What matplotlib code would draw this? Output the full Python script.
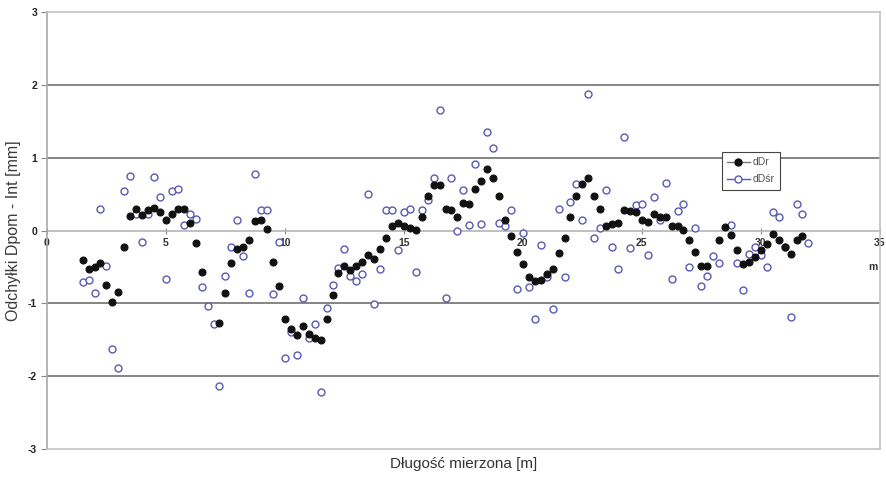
"""
Odchyłki Dpom - Int wzdłuż długości mierzonej (dDr, dDśr)
"""
import numpy as np
import matplotlib
matplotlib.use('Agg')
import matplotlib.pyplot as plt
from matplotlib.lines import Line2D

plt.rcParams['font.family'] = ['Liberation Sans', 'DejaVu Sans']

# distance along the measured length [m]
dist = [1.5, 1.75, 2.0, 2.25, 2.5, 2.75, 3.0, 3.25, 3.5, 3.75,
        4.0, 4.25, 4.5, 4.75, 5.0, 5.25, 5.5, 5.75, 6.0, 6.25,
        6.5, 6.75, 7.0, 7.25, 7.5, 7.75, 8.0, 8.25, 8.5, 8.75,
        9.0, 9.25, 9.5, 9.75, 10.0, 10.25, 10.5, 10.75, 11.0, 11.25,
        11.5, 11.75, 12.0, 12.25, 12.5, 12.75, 13.0, 13.25, 13.5, 13.75,
        14.0, 14.25, 14.5, 14.75, 15.0, 15.25, 15.5, 15.75, 16.0, 16.25,
        16.5, 16.75, 17.0, 17.25, 17.5, 17.75, 18.0, 18.25, 18.5, 18.75,
        19.0, 19.25, 19.5, 19.75, 20.0, 20.25, 20.5, 20.75, 21.0, 21.25,
        21.5, 21.75, 22.0, 22.25, 22.5, 22.75, 23.0, 23.25, 23.5, 23.75,
        24.0, 24.25, 24.5, 24.75, 25.0, 25.25, 25.5, 25.75, 26.0, 26.25,
        26.5, 26.75, 27.0, 27.25, 27.5, 27.75, 28.0, 28.25, 28.5, 28.75,
        29.0, 29.25, 29.5, 29.75, 30.0, 30.25, 30.5, 30.75, 31.0, 31.25,
        31.5, 31.75, 32.0]

# dDr [mm] (None = no point)
d_dr = [-0.40, -0.53, -0.50, -0.45, -0.75, -0.98, -0.84, -0.22, 0.20, 0.30,
        0.21, 0.28, 0.31, 0.25, 0.15, 0.23, 0.30, 0.30, 0.11, -0.17,
        -0.57, None, None, -1.27, -0.86, -0.45, -0.25, -0.22, -0.13, 0.13,
        0.14, 0.02, -0.43, -0.76, -1.21, -1.35, -1.44, -1.31, -1.42, -1.47,
        -1.50, -1.21, -0.88, -0.58, -0.49, -0.54, -0.48, -0.43, -0.33, -0.39,
        -0.25, -0.10, 0.06, 0.10, 0.07, 0.04, 0.01, 0.18, 0.48, 0.63,
        0.63, 0.30, 0.28, 0.19, 0.38, 0.37, 0.57, 0.68, 0.84, 0.72,
        0.48, 0.14, -0.07, -0.29, -0.46, -0.64, -0.69, -0.68, -0.60, -0.53,
        -0.31, -0.10, 0.18, 0.47, 0.64, 0.72, 0.47, 0.30, 0.07, 0.09,
        0.10, 0.28, 0.27, 0.25, 0.15, 0.12, 0.23, 0.19, 0.19, 0.06,
        0.06, 0.01, -0.13, -0.29, -0.48, -0.49, None, -0.13, 0.05, -0.06,
        -0.27, -0.46, -0.43, -0.36, -0.27, -0.18, -0.05, -0.13, -0.22, -0.32,
        -0.13, -0.08, None]

# dDśr [mm]
d_dsr = [-0.71, -0.68, -0.85, 0.29, -0.49, -1.62, -1.88, 0.55, 0.75, 0.23,
         -0.15, 0.23, 0.74, 0.46, -0.66, 0.55, 0.57, 0.08, 0.23, 0.16,
         -0.77, -1.04, -1.28, -2.14, -0.63, -0.22, 0.14, -0.35, -0.86, 0.78,
         0.28, 0.28, -0.87, -0.15, -1.75, -1.39, -1.71, -0.93, -1.48, -1.28,
         -2.22, -1.06, -0.75, -0.52, -0.25, -0.62, -0.69, -0.60, 0.50, -1.01,
         -0.53, 0.28, 0.28, -0.27, 0.25, 0.30, -0.57, 0.28, 0.42, 0.72,
         1.66, -0.93, 0.72, 0.00, 0.56, 0.08, 0.92, 0.09, 1.36, 1.13,
         0.10, 0.07, 0.28, -0.80, -0.03, -0.77, -1.21, -0.20, -0.64, -1.08,
         0.29, -0.64, 0.39, 0.64, 0.15, 1.88, -0.10, 0.03, 0.56, -0.22,
         -0.53, 1.29, -0.24, 0.35, 0.37, -0.33, 0.46, 0.14, 0.65, -0.66,
         0.27, 0.37, -0.50, 0.04, -0.76, -0.62, -0.35, -0.45, None, 0.08,
         -0.44, -0.82, -0.32, -0.22, -0.33, -0.50, 0.25, 0.18, -0.23, -1.18,
         0.37, 0.23, -0.17]

x_ticks = [0, 5, 10, 15, 20, 25, 30, 35]
y_ticks = [-3, -2, -1, 0, 1, 2, 3]

GRID = '#848484'
FRAME = '#c4c4c4'
BLUE = '#5a5ab4'


def to_array(vals):
    return np.array([np.nan if v is None else v for v in vals], dtype=float)


def main():
    fig = plt.figure(figsize=(8.86, 4.86), dpi=100)
    ax = fig.add_axes([0.053, 0.076, 0.94, 0.899])

    x = np.array(dist)
    ax.plot(x, to_array(d_dsr), ls='none', marker='o', ms=5, mfc='white',
            mec=BLUE, mew=1.0, zorder=3)
    ax.plot(x, to_array(d_dr), ls='none', marker='o', ms=5, mfc='#111111',
            mec='#111111', mew=0.8, zorder=4)

    ax.set_xlim(0, 35)
    ax.set_ylim(-3, 3)

    # horizontal grid (zero line is drawn by the secondary axis)
    for yv in y_ticks:
        if yv not in (-3, 0, 3):
            ax.axhline(yv, color=GRID, lw=1.4, zorder=1)

    for side in ['top', 'right', 'bottom', 'left']:
        ax.spines[side].set_color(FRAME)
        ax.spines[side].set_linewidth(1.2)
    ax.spines['left'].set_color('#a8a8a8')

    ax.set_yticks(y_ticks)
    ax.set_yticklabels([str(v) for v in y_ticks])
    ax.tick_params(axis='y', direction='out', length=4, width=0.8,
                   color='#888888', labelsize=7.5, pad=3, labelcolor='#222222')
    for lab in ax.get_yticklabels():
        lab.set_fontweight('bold')

    ax.set_xticks([])

    # x axis crossing at y = 0, labels below the line
    sec = ax.secondary_xaxis(0.5)
    sec.set_alignment('bottom')
    sec.set_xticks(x_ticks)
    sec.set_xticklabels([str(v) for v in x_ticks])
    sec.spines['bottom'].set_color('#b4b4b4')
    sec.spines['bottom'].set_linewidth(1.2)
    sec.tick_params(axis='x', direction='inout', length=4, width=0.8,
                    color='#888888', labelsize=7.5, pad=3, labelcolor='#333333')
    for lab in sec.get_xticklabels():
        lab.set_fontweight('bold')

    ax.text(34.7, -0.5, 'm', fontsize=7.5, fontweight='bold', color='#333333',
            ha='center', va='center')

    ax.set_xlabel('Długość mierzona [m]', fontsize=11, color='#333333', labelpad=6)
    ax.set_ylabel('Odchyłki Dpom - Int [mm]', fontsize=11.5, color='#3a3a3a', labelpad=5)

    handles = [
        Line2D([], [], color='#777777', lw=1, marker='o', ms=5, mfc='#111111',
               mec='#111111', label='dDr'),
        Line2D([], [], color=BLUE, lw=1, marker='o', ms=5, mfc='white',
               mec=BLUE, label='dDśr'),
    ]
    leg = ax.legend(handles=handles, loc='upper left', bbox_to_anchor=(0.81, 0.68),
                    fontsize=7.5, frameon=True, fancybox=False, framealpha=1,
                    edgecolor='#444444', handlelength=2.2, handletextpad=0.3,
                    borderpad=0.5, labelspacing=0.7, borderaxespad=0)
    leg.get_frame().set_linewidth(0.8)
    for t in leg.get_texts():
        t.set_color('#555555')
    leg.set_zorder(5)

    fig.savefig('out.png', dpi=100, facecolor='white')
    plt.close(fig)


if __name__ == '__main__':
    main()
